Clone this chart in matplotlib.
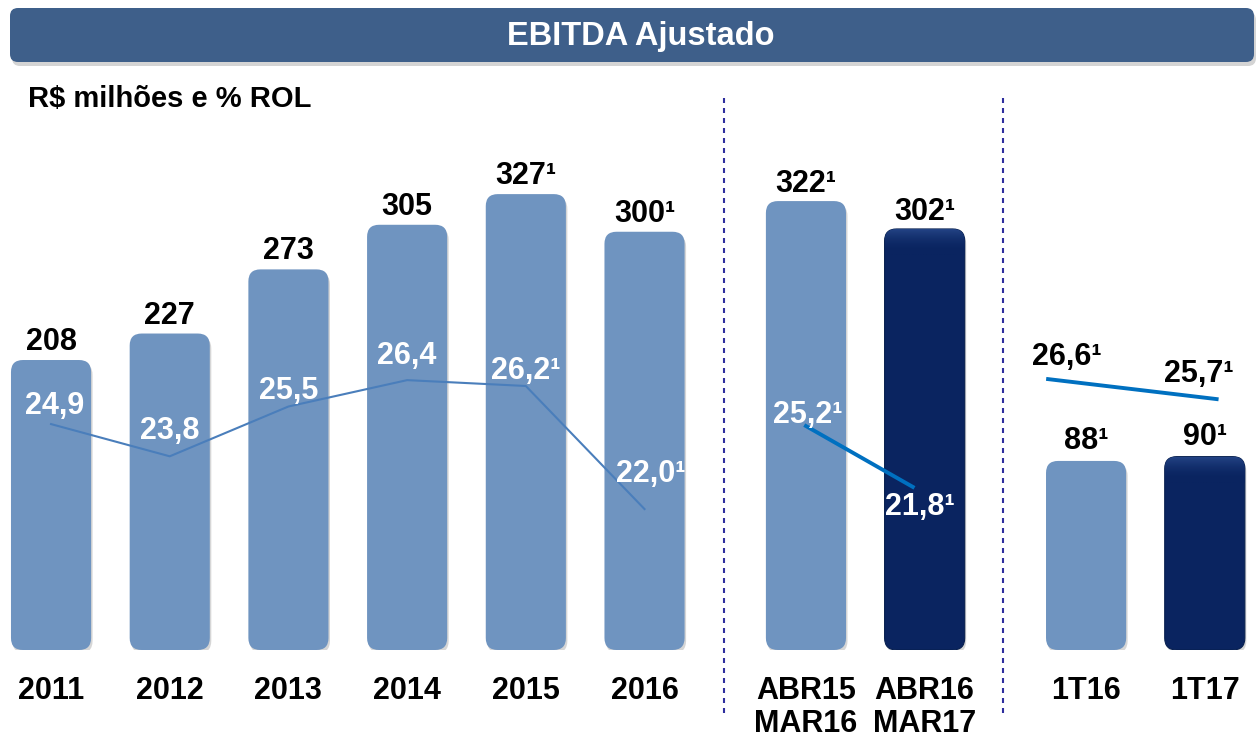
import matplotlib
matplotlib.use("Agg")
import matplotlib.pyplot as plt
import numpy as np
from matplotlib.patches import FancyBboxPatch
from matplotlib.transforms import offset_copy

plt.rcParams['font.family'] = ['Liberation Sans', 'DejaVu Sans']
plt.rcParams['font.weight'] = 'bold'

# data
years = ['2011', '2012', '2013', '2014', '2015', '2016']
ebitda_years = [208, 227, 273, 305, 327, 300]
ebitda_years_lbl = ['208', '227', '273', '305', '327¹', '300¹']
margin_years = [24.9, 23.8, 25.5, 26.4, 26.2, 22.0]
margin_years_lbl = ['24,9', '23,8', '25,5', '26,4', '26,2¹', '22,0¹']

ltm = ['ABR15\nMAR16', 'ABR16\nMAR17']
ebitda_ltm = [322, 302]
ebitda_ltm_lbl = ['322¹', '302¹']
margin_ltm = [25.2, 21.8]
margin_ltm_lbl = ['25,2¹', '21,8¹']

quarters = ['1T16', '1T17']
ebitda_q = [88, 90]
ebitda_q_lbl = ['88¹', '90¹']
margin_q = [26.6, 25.7]
margin_q_lbl = ['26,6¹', '25,7¹']

LIGHT = '#6f94c0'
DARK = '#0a2460'

W, H = 1257, 742
fig = plt.figure(figsize=(W / 100, H / 100), dpi=100)

# background layer in pixel units (title bar, subtitle, separators)
bg = fig.add_axes([0, 0, 1, 1])
bg.set_xlim(0, W)
bg.set_ylim(H, 0)
bg.axis('off')
bg.add_patch(FancyBboxPatch((12, 12), 1244, 54, boxstyle="round,pad=0,rounding_size=8",
                            fc='#b8b8b8', ec='none', alpha=0.6))
bg.add_patch(FancyBboxPatch((10, 8), 1244, 54, boxstyle="round,pad=0,rounding_size=8",
                            fc='#3e5f8a', ec='none'))
bg.text(641, 37, 'EBITDA Ajustado', color='white', fontsize=23.5, ha='center', va='center')
bg.text(28, 107, 'R$ milhões e % ROL', color='black', fontsize=21, ha='left', va='baseline')
for xs in (724, 1003):
    bg.plot([xs, xs], [98, 718], color='#2e2e9e', lw=1.5, linestyle=(0, (2.4, 2.4)))

# bar positions
x_years = np.arange(len(years))
x_ltm = 6.36 + np.arange(len(ltm))
x_q = 8.72 + np.arange(len(quarters))
XMIN, XMAX = -0.43, 10.16
bar_w = 0.675

ax_bottom_px, ax_top_px = 650, 100
ax_h_px = ax_bottom_px - ax_top_px
ax = fig.add_axes([0, (H - ax_bottom_px) / H, 1, ax_h_px / H])
ax.set_xlim(XMIN, XMAX)
ax.set_ylim(0, 394.5)
ax.axis('off')

ax_qb = ax.twinx()
ax_qb.set_ylim(0, 256)
ax_qb.axis('off')

ppx = W / (XMAX - XMIN)
grad = np.linspace(0, 1, 256).reshape(-1, 1)


def round_bars(axis, bars, color, ylim_top, dark=False):
    ppy = ax_h_px / ylim_top
    r = 12 / ppx
    style = f"round,pad=0,rounding_size={r}"
    for rect in bars:
        x, y = rect.get_x(), rect.get_y()
        w, h = rect.get_width(), rect.get_height()
        rect.set_visible(False)
        sh = FancyBboxPatch((x, y), w, h, boxstyle=style, mutation_aspect=ppx / ppy,
                            fc='#8c8c8c', ec='none', alpha=0.35, zorder=1,
                            transform=offset_copy(axis.transData, fig, x=1.5, y=-3, units='dots'))
        axis.add_patch(sh)
        p = FancyBboxPatch((x, y), w, h, boxstyle=style, mutation_aspect=ppx / ppy,
                           fc=color, ec='#08204f' if dark else 'none', lw=0.8, zorder=2)
        axis.add_patch(p)
        if dark:
            # bevel: lighter near top edge, fading down
            band = 26 / ppy
            cmap = matplotlib.colors.LinearSegmentedColormap.from_list(
                'bevel', [(0, DARK), (1, '#27488a')])
            im = axis.imshow(grad ** 2.2, cmap=cmap, origin='lower', aspect='auto',
                             extent=(x, x + w, y + h - band, y + h), zorder=3, alpha=0.9)
            im.set_clip_path(p)
            axis.set_xlim(XMIN, XMAX)
            axis.set_ylim(0, ylim_top)


b1 = ax.bar(x_years, ebitda_years, width=bar_w)
round_bars(ax, b1, LIGHT, 394.5)
b2 = ax.bar(x_ltm, ebitda_ltm, width=bar_w)
round_bars(ax, [b2[0]], LIGHT, 394.5)
round_bars(ax, [b2[1]], DARK, 394.5, dark=True)
b3 = ax_qb.bar(x_q, ebitda_q, width=bar_w)
round_bars(ax_qb, [b3[0]], LIGHT, 256)
round_bars(ax_qb, [b3[1]], DARK, 256, dark=True)

FS = 22
for xv, v, lbl in zip(x_years, ebitda_years, ebitda_years_lbl):
    ax.annotate(lbl, (xv, v), xytext=(0, 10), textcoords='offset pixels',
                ha='center', va='baseline', fontsize=FS, color='black', annotation_clip=False)
for xv, v, lbl in zip(x_ltm, ebitda_ltm, ebitda_ltm_lbl):
    ax.annotate(lbl, (xv, v), xytext=(0, 9), textcoords='offset pixels',
                ha='center', va='baseline', fontsize=FS, color='black', annotation_clip=False)
for xv, v, lbl in zip(x_q, ebitda_q, ebitda_q_lbl):
    ax_qb.annotate(lbl, (xv, v), xytext=(0, 12), textcoords='offset pixels',
                   ha='center', va='baseline', fontsize=FS, color='black', annotation_clip=False)

# category labels
for xv, lbl in zip(list(x_years) + list(x_ltm) + list(x_q), years + ltm + quarters):
    ax.annotate(lbl, (xv, 0), xytext=(0, -26), textcoords='offset pixels',
                ha='center', va='top', fontsize=FS, color='black', linespacing=1.12,
                annotation_clip=False)

# margin lines
ax_l1 = ax.twinx()
ax_l1.set_ylim(17.19, 35.96)
ax_l1.axis('off')
ax_l1.plot(x_years, margin_years, color='#4a7ebb', lw=1.5, zorder=5)
dy_years = [10, 17, 7, 16, 7, 27]
dx_years = [4, 0, 0, 0, 0, 6]
for xv, v, lbl, dx, dy in zip(x_years, margin_years, margin_years_lbl, dx_years, dy_years):
    ax_l1.annotate(lbl, (xv, v), xytext=(dx, dy), textcoords='offset pixels',
                   ha='center', va='baseline', fontsize=FS, color='white', zorder=6,
                   annotation_clip=False)

ax_l2 = ax.twinx()
ax_l2.set_ylim(12.69, 43.41)
ax_l2.axis('off')
ltm_line_x = x_ltm + np.array([0.0, -0.10])
ax_l2.plot(ltm_line_x, margin_ltm, color='#0070c0', lw=2.8, zorder=5)
for xv, v, lbl, dx, dy in zip(ltm_line_x, margin_ltm, margin_ltm_lbl, [2, 7], [3, -28]):
    ax_l2.annotate(lbl, (xv, v), xytext=(dx, dy), textcoords='offset pixels',
                   ha='center', va='baseline', fontsize=FS, color='white', zorder=6,
                   annotation_clip=False)

ax_l3 = ax.twinx()
ax_l3.set_ylim(14.4, 39.17)
ax_l3.axis('off')
q_line_x = x_q + np.array([-0.32, 0.10])
ax_l3.plot(q_line_x, margin_q, color='#0070c0', lw=2.8, zorder=5)
for xv, v, lbl, dx, dy in zip(q_line_x, margin_q, margin_q_lbl, [19, -18], [14, 17]):
    ax_l3.annotate(lbl, (xv, v), xytext=(dx, dy), textcoords='offset pixels',
                   ha='center', va='baseline', fontsize=FS, color='black', zorder=6,
                   annotation_clip=False)

fig.savefig('out.png', dpi=100)
